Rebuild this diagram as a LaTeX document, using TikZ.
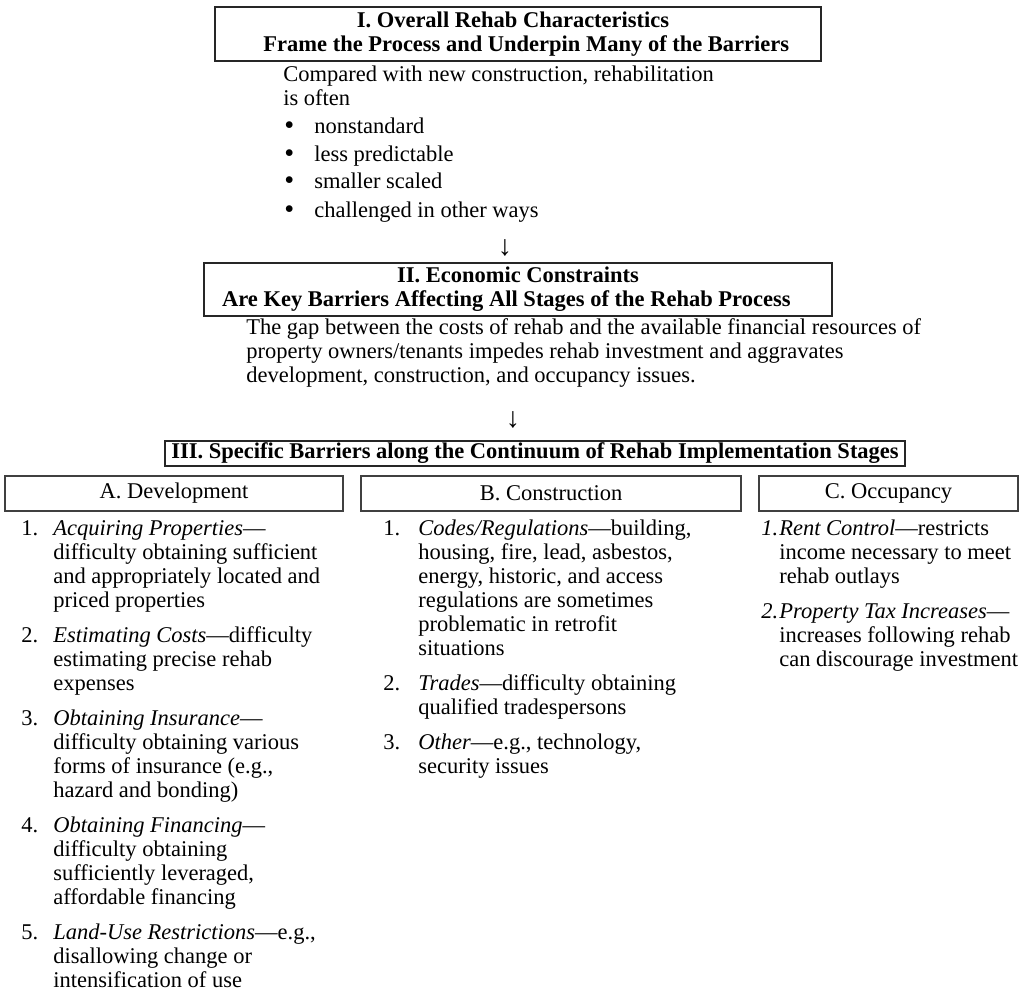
\documentclass[tikz,border=0pt]{standalone}
\usepackage{fontspec}
\setmainfont{Liberation Serif}
\begin{document}
\begin{tikzpicture}[x=0.6pt,y=-0.6pt]
\tikzstyle{every node} = [inner sep=0pt, font=\fontsize{13.5}{14.4}\selectfont]
\tikzstyle{bigbox} = [draw=black!85, line width=1.1pt, align=center, font=\fontsize{13.5}{14.4}\selectfont\bfseries]
\tikzstyle{stage} = [draw=black!75, line width=0.8pt]
\tikzstyle{txt} = [anchor=north west, align=left]
\tikzstyle{num} = [anchor=base west]
\tikzstyle{dot} = [anchor=base west, font=\fontsize{17}{17}\selectfont]
\tikzstyle{down} = [font=\fontsize{17}{17}\selectfont]
\useasboundingbox (0,0) rectangle (1021,999);
% I
\node[bigbox, minimum width=363.6pt, minimum height=32.4pt] (rehab) at (518,34) {I. Overall Rehab Characteristics\hspace*{6pt}\\\hspace*{10pt}Frame the Process and Underpin Many of the Barriers};
\node[txt] (compared) at (283,64.2) {\strut Compared with new construction, rehabilitation\\is often};
\node[dot] (dot1) at (284,134) {•};
\node[num] (trait1) at (314,133) {nonstandard};
\node[dot] (dot2) at (284,162) {•};
\node[num] (trait2) at (314,161) {less predictable};
\node[dot] (dot3) at (284,189) {•};
\node[num] (trait3) at (314,188) {smaller scaled};
\node[dot] (dot4) at (284,218) {•};
\node[num] (trait4) at (314,217) {challenged in other ways};
\node[down] (arrowI) at (505,248) {↓};
% II
\node[bigbox, minimum width=376.8pt, minimum height=31.8pt] (econ) at (518,289.5) {II. Economic Constraints\\Are Key Barriers Affecting All Stages of the Rehab Process\hspace*{14pt}};
\node[txt] (gap) at (246,317.2) {\strut The gap between the costs of rehab and the available financial resources of\\property owners/tenants impedes rehab investment and aggravates\\development, construction, and occupancy issues.};
\node[down] (arrowII) at (513,420) {↓};
% III
\node[bigbox, minimum width=444pt, minimum height=15pt] (stages) at (535,453.5) {III. Specific Barriers along the Continuum of Rehab Implementation Stages};
\node[stage, minimum width=202.8pt, minimum height=21pt] (dev) at (174,493.5) {A. Development};
\node[stage, minimum width=228pt, minimum height=21pt] (constr) at (551,493.5) {B. Construction};
\node[stage, minimum width=155.4pt, minimum height=21pt] (occ) at (888.5,493.5) {C. Occupancy};
% A
\node[num] (a1n) at (21,535) {1.};
\node[txt] (a1) at (53,518.2) {\strut\textit{Acquiring Properties}—\\difficulty obtaining sufficient\\and appropriately located and\\priced properties};
\node[num] (a2n) at (21,642) {2.};
\node[txt] (a2) at (53,625.2) {\strut\textit{Estimating Costs}—difficulty\\estimating precise rehab\\expenses};
\node[num] (a3n) at (21,725) {3.};
\node[txt] (a3) at (53,708.2) {\strut\textit{Obtaining Insurance}—\\difficulty obtaining various\\forms of insurance (e.g.,\\hazard and bonding)};
\node[num] (a4n) at (21,832) {4.};
\node[txt] (a4) at (53,815.2) {\strut\textit{Obtaining Financing}—\\difficulty obtaining\\sufficiently leveraged,\\affordable financing};
\node[num] (a5n) at (21,939) {5.};
\node[txt] (a5) at (53,922.2) {\strut\textit{Land-Use Restrictions}—e.g.,\\disallowing change or\\intensification of use};
% B
\node[num] (b1n) at (383,535) {1.};
\node[txt] (b1) at (418,518.2) {\strut\textit{Codes/Regulations}—building,\\housing, fire, lead, asbestos,\\energy, historic, and access\\regulations are sometimes\\problematic in retrofit\\situations};
\node[num] (b2n) at (383,690) {2.};
\node[txt] (b2) at (418,673.2) {\strut\textit{Trades}—difficulty obtaining\\qualified tradespersons};
\node[num] (b3n) at (383,749) {3.};
\node[txt] (b3) at (418,732.2) {\strut\textit{Other}—e.g., technology,\\security issues};
% C
\node[num] (c1n) at (761,535) {\textit{1.}};
\node[txt] (c1) at (779,518.2) {\strut\textit{Rent Control}—restricts\\income necessary to meet\\rehab outlays};
\node[num] (c2n) at (761,618) {\textit{2.}};
\node[txt] (c2) at (779,601.2) {\strut\textit{Property Tax Increases}—\\increases following rehab\\can discourage investment};
\end{tikzpicture}
\end{document}
